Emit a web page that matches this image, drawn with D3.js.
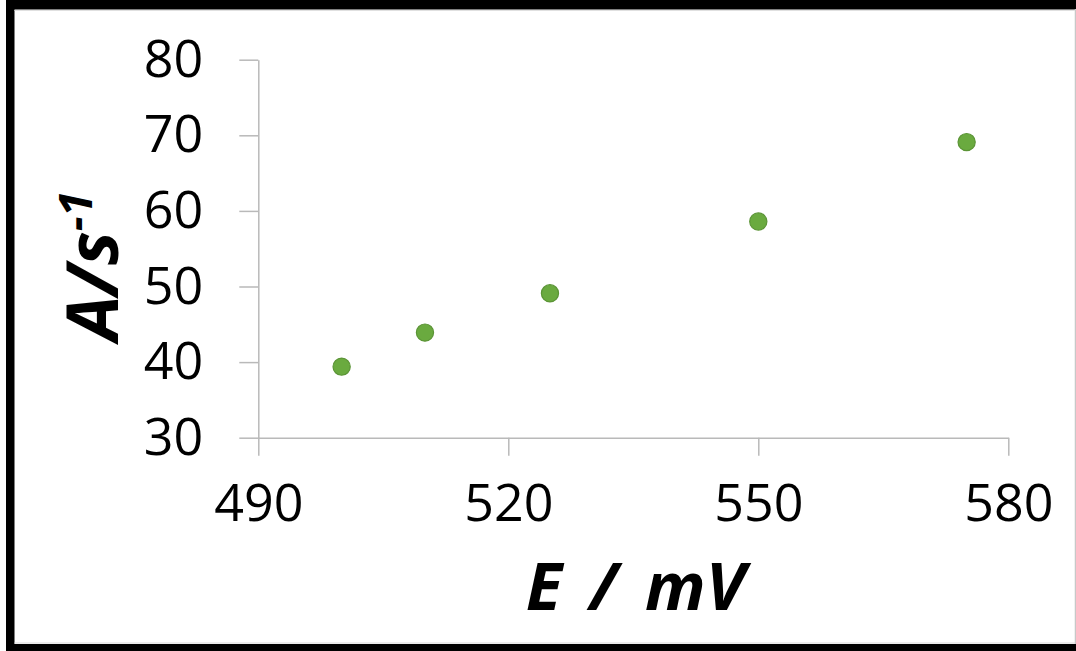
<!DOCTYPE html>
<html><head><meta charset="utf-8">
<script src="https://cdn.jsdelivr.net/npm/d3@7"></script>
<style>
html,body{margin:0;padding:0;background:#fff;}
svg{display:block;}
</style></head>
<body>
<script>
const xValues = [500, 510, 525, 550, 575];
const yValues = [39.4, 43.9, 49.1, 58.6, 69.1];
const xTicks = [490, 520, 550, 580];
const yTicks = [30, 40, 50, 60, 70, 80];
const xTitle = "E / mV";
const yTitleMain = "A/s";
const yTitleSup = "-1";

const W = 1076, H = 651;
const svg = d3.select("body").append("svg").attr("width", W).attr("height", H);

// frame
svg.append("rect").attr("x",0).attr("y",0).attr("width",W).attr("height",H).attr("fill","#fff");
svg.append("rect").attr("x",6).attr("y",0).attr("width",W-6).attr("height",9.5).attr("fill","#000");
svg.append("rect").attr("x",6).attr("y",0).attr("width",8.5).attr("height",H).attr("fill","#000");
svg.append("rect").attr("x",6).attr("y",644).attr("width",W-6).attr("height",7).attr("fill","#000");
svg.append("line").attr("x1",1075.5).attr("x2",1075.5).attr("y1",9).attr("y2",644).attr("stroke","#c8c8c8").attr("stroke-width",1.5);
svg.append("line").attr("x1",14.5).attr("x2",1075).attr("y1",10.5).attr("y2",10.5).attr("stroke","#e0e0e0").attr("stroke-width",1);
svg.append("line").attr("x1",14.5).attr("x2",1075).attr("y1",643).attr("y2",643).attr("stroke","#d8d8d8").attr("stroke-width",1);

const x = d3.scaleLinear().domain([490, 580]).range([258.3, 1008.3]);
const y = d3.scaleLinear().domain([30, 80]).range([437.7, 59.7]);

const axisColor = "#b9b9b9";
const font = "'Open Sans', 'DejaVu Sans', sans-serif";

const gy = svg.append("g").attr("transform", `translate(${x(490)},0)`)
  .call(d3.axisLeft(y).tickValues(yTicks).tickSize(19).tickSizeOuter(0).tickPadding(36).tickFormat(d3.format("d")));
const gx = svg.append("g").attr("transform", `translate(0,${y(30)})`)
  .call(d3.axisBottom(x).tickValues(xTicks).tickSize(18).tickSizeOuter(0).tickPadding(28).tickFormat(d3.format("d")));

[gy, gx].forEach(g => {
  g.select(".domain").attr("stroke", axisColor).attr("stroke-width", 1.5);
  g.selectAll(".tick line").attr("stroke", axisColor).attr("stroke-width", 1.5);
  g.selectAll(".tick text").attr("fill", "#000").attr("font-family", font).attr("font-size", 52);
});

// points
svg.append("g").selectAll("circle").data(xValues).join("circle")
  .attr("cx", (d) => x(d))
  .attr("cy", (d, i) => y(yValues[i]))
  .attr("r", 8.6)
  .attr("fill", "#6aaa3f")
  .attr("stroke", "#5b9436")
  .attr("stroke-width", 1.2);

// x title
svg.append("text").attr("x", 635.5).attr("y", 610)
  .attr("text-anchor", "middle")
  .attr("font-family", font).attr("font-weight", "bold").attr("font-style", "italic")
  .attr("font-size", 67).attr("fill", "#000")
  .attr("word-spacing", 10)
  .text(xTitle);

// y title
const yt = svg.append("text")
  .attr("transform", "translate(118,266) rotate(-90)")
  .attr("text-anchor", "middle")
  .attr("font-family", font).attr("font-weight", "bold").attr("font-style", "italic")
  .attr("font-size", 72).attr("fill", "#000");
yt.append("tspan").text(yTitleMain);
yt.append("tspan").attr("dy", -26).attr("font-size", 46).text(yTitleSup);
</script>
</body></html>
